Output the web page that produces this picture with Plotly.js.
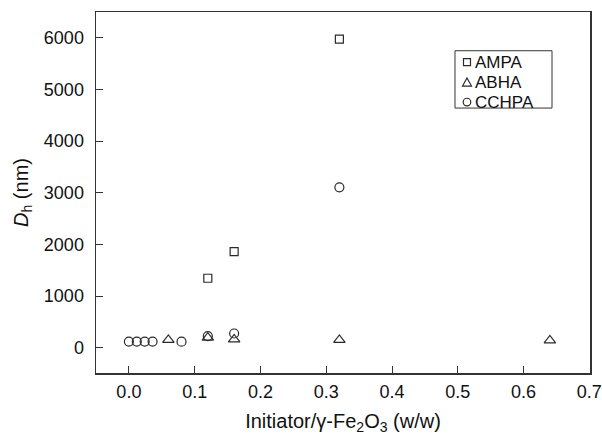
<!DOCTYPE html>
<html><head><meta charset="utf-8">
<script src="https://cdn.plot.ly/plotly-3.0.1.min.js"></script>
<style>html,body{margin:0;padding:0;background:#fff}</style>
</head><body>
<div id="chart" style="width:602px;height:435px"></div>
<script>
const ampaX = [0.12, 0.16, 0.32];
const ampaY = [1345, 1860, 5975];
const abhaX = [0.06, 0.12, 0.16, 0.32, 0.64];
const abhaY = [150, 195, 160, 150, 140];
const cchpaX = [0.0, 0.012, 0.024, 0.036, 0.08, 0.12, 0.16, 0.32];
const cchpaY = [118, 118, 118, 118, 116, 225, 275, 3105];
const seriesNames = ['AMPA', 'ABHA', 'CCHPA'];

const lineCol = '#2a2a2a';
const mk = (sym, size) => ({symbol: sym, size: size, color: lineCol, line: {color: lineCol, width: 1.2}});
const data = [
  {x: ampaX, y: ampaY, name: seriesNames[0], type: 'scatter', mode: 'markers', marker: mk('square-open', 8)},
  {x: abhaX, y: abhaY, name: seriesNames[1], type: 'scatter', mode: 'markers', marker: mk('triangle-up-open', 10)},
  {x: cchpaX, y: cchpaY, name: seriesNames[2], type: 'scatter', mode: 'markers', marker: mk('circle-open', 9)}
];
const fam = 'Liberation Sans, Arial, sans-serif';

// custom legend (box + symbols + labels) in paper coordinates
const legRowsY = [0.8614, 0.8045, 0.7505];
const legSymX = 0.7510, legTextX = 0.7632;
const shapes = [
  {type: 'rect', xref: 'paper', yref: 'paper', x0: 0.7267, x1: 0.9231, y0: 0.7339, y1: 0.8927,
   line: {color: '#333', width: 1}, fillcolor: '#fff', layer: 'above'},
  {type: 'rect', xref: 'paper', yref: 'paper', xsizemode: 'pixel', ysizemode: 'pixel',
   xanchor: legSymX, yanchor: legRowsY[0], x0: -3.5, x1: 3.5, y0: -3.5, y1: 3.5,
   line: {color: lineCol, width: 1.2}, layer: 'above'},
  {type: 'path', xref: 'paper', yref: 'paper', xsizemode: 'pixel', ysizemode: 'pixel',
   xanchor: legSymX, yanchor: legRowsY[1], path: 'M-4.5,-3.5 L4.5,-3.5 L0,4.5 Z',
   line: {color: lineCol, width: 1.2}, layer: 'above'},
  {type: 'circle', xref: 'paper', yref: 'paper', xsizemode: 'pixel', ysizemode: 'pixel',
   xanchor: legSymX, yanchor: legRowsY[2], x0: -3.8, x1: 3.8, y0: -3.8, y1: 3.8,
   line: {color: lineCol, width: 1.2}, layer: 'above'}
];
const annotations = seriesNames.map((n, i) => ({
  text: n, xref: 'paper', yref: 'paper', x: legTextX, y: legRowsY[i],
  xanchor: 'left', yanchor: 'middle', showarrow: false,
  font: {family: fam, size: 17, color: '#111'}
}));

const layout = {
  width: 602, height: 435,
  margin: {l: 96, r: 12, t: 12, b: 62},
  paper_bgcolor: '#fff', plot_bgcolor: '#fff',
  font: {family: fam, size: 18, color: '#111'},
  showlegend: false,
  shapes: shapes,
  annotations: annotations,
  xaxis: {
    range: [-0.05, 0.701], tickvals: [0,0.1,0.2,0.3,0.4,0.5,0.6,0.7],
    ticktext: ['0.0','0.1','0.2','0.3','0.4','0.5','0.6','0.7'],
    ticks: 'inside', ticklen: 7, tickcolor: '#333', showgrid: false, zeroline: false,
    showline: true, linecolor: '#333', linewidth: 1.5, mirror: true,
    tickfont: {family: fam, size: 18, color: '#111'}, ticklabelstandoff: 2,
    title: {text: 'Initiator/γ-Fe<sub>2</sub>O<sub>3</sub> (w/w)', font: {family: fam, size: 20, color: '#111'}, standoff: 16}
  },
  yaxis: {
    range: [-490, 6500], tickvals: [0,1000,2000,3000,4000,5000,6000],
    ticks: 'inside', ticklen: 7, tickcolor: '#333', showgrid: false, zeroline: false,
    showline: true, linecolor: '#333', linewidth: 1.5, mirror: true,
    tickfont: {family: fam, size: 18, color: '#111'}, ticklabelstandoff: 7,
    title: {text: '<i>D</i><sub>h</sub> (nm)', font: {family: fam, size: 20, color: '#111'}, standoff: 10}
  }
};
Plotly.newPlot('chart', data, layout, {displayModeBar: false, staticPlot: true});
</script>
</body></html>
